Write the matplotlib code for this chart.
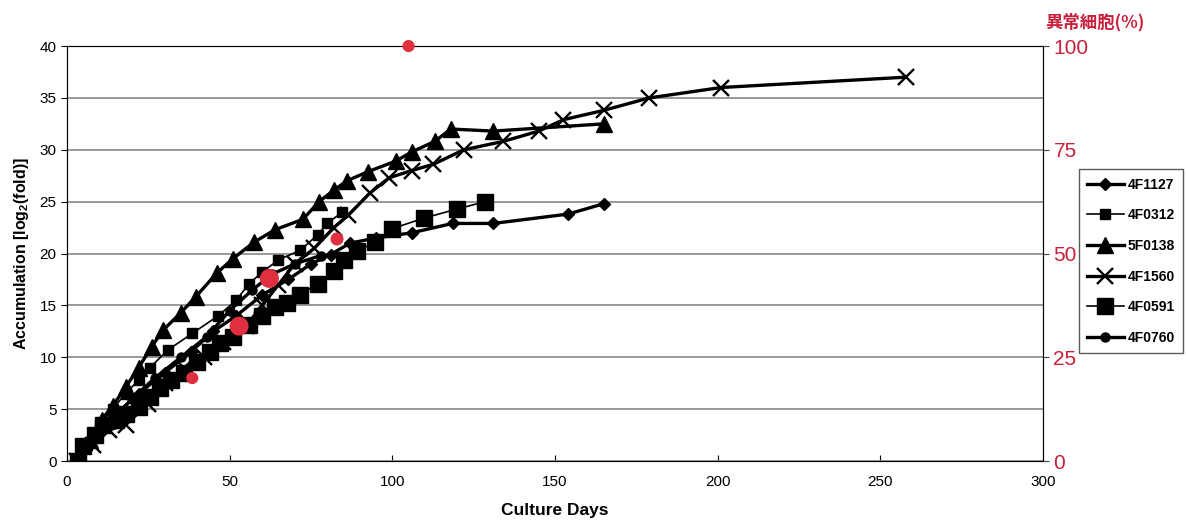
import matplotlib
matplotlib.use("Agg")
import matplotlib.pyplot as plt

plt.rcParams['font.family'] = ['Liberation Sans', 'DejaVu Sans']
plt.rcParams['mathtext.fontset'] = 'custom'
plt.rcParams['mathtext.rm'] = 'Liberation Sans'
plt.rcParams['mathtext.bf'] = 'Liberation Sans:bold'

# ---- data (day, log2 fold) ----
days_4F1127 = [3, 9, 15, 22, 30, 38, 45, 52, 60, 68, 75, 81, 87, 95, 106, 118.5, 131, 154, 165]
vals_4F1127 = [0, 2.5, 4.5, 6.5, 8.5, 10.5, 12.5, 14, 16, 17.5, 19, 19.9, 21, 21.5, 22, 22.9, 22.9, 23.8, 24.8]

days_4F0312 = [3, 6, 10, 14, 18, 22, 25.5, 31, 38.5, 46.5, 52, 56, 60, 65, 71.7, 77, 80, 84.6]
vals_4F0312 = [0, 1.5, 3.5, 5, 6.5, 7.8, 9, 10.7, 12.3, 14, 15.5, 17.1, 18.2, 19.4, 20.3, 21.8, 22.9, 24]

days_5F0138 = [3, 7, 10.7, 14, 18, 22, 26, 29.5, 35, 39.5, 46, 51, 57.5, 64, 72.5, 77.5, 82, 86, 92.6, 101, 106, 113, 118, 131, 165]
vals_5F0138 = [0, 2, 4, 5.3, 7.1, 9, 11, 12.6, 14.3, 15.8, 18.1, 19.5, 21.1, 22.3, 23.3, 25, 26.1, 27, 27.9, 28.9, 29.8, 30.8, 32, 31.8, 32.5]

days_4F1560 = [3, 8, 13, 18, 25, 30, 36, 42, 48, 55, 60, 65, 70, 76, 82, 86.5, 93, 99, 106, 112.6, 122, 134, 145, 152.6, 165, 179, 201, 258]
vals_4F1560 = [0, 1.5, 3, 3.5, 5.5, 7.5, 9, 10, 11.5, 13, 15, 17, 19, 20.5, 22.5, 23.7, 25.8, 27.3, 28, 28.6, 30, 30.8, 31.8, 32.9, 33.8, 35, 36, 37]

days_4F0591 = [3.5, 5, 8.6, 11, 15, 18, 22, 25.5, 28.6, 32, 36, 40, 44, 47, 51, 56, 60, 64, 67.7, 71.7, 77, 82, 85, 89, 94.8, 100, 109.6, 120, 128.6]
vals_4F0591 = [0, 1.4, 2.5, 3.5, 4, 4.5, 5.2, 6.2, 7, 7.8, 8.5, 9.5, 10.5, 11.4, 12, 13.1, 14, 14.8, 15.2, 16, 17.1, 18.3, 19.4, 20.2, 21.1, 22.4, 23.4, 24.3, 25]

days_4F0760 = [3, 8, 14, 20, 27, 35, 43, 50, 57, 63, 70, 78]
vals_4F0760 = [0, 2, 4, 6, 8, 10, 12, 14.5, 16.5, 18, 19, 19.8]

# abnormal cells (%), right axis
abn_days = [38.5, 52.9, 62.2, 83, 105]
abn_pct = [20, 32.5, 44, 53.5, 100]
abn_size = [60, 160, 160, 70, 60]

series = [
    ("4F1127", days_4F1127, vals_4F1127, dict(marker='D', ms=6, lw=2.4)),
    ("4F0312", days_4F0312, vals_4F0312, dict(marker='s', ms=7.5, lw=1.2)),
    ("5F0138", days_5F0138, vals_5F0138, dict(marker='^', ms=11, lw=2.4)),
    ("4F1560", days_4F1560, vals_4F1560, dict(marker='x', ms=11, mew=1.7, lw=2.4)),
    ("4F0591", days_4F0591, vals_4F0591, dict(marker='s', ms=11, lw=1.2)),
    ("4F0760", days_4F0760, vals_4F0760, dict(marker='o', ms=6.5, lw=2.4)),
]

fig = plt.figure(figsize=(11.86, 5.23), dpi=100)
ax = fig.add_axes([0.0565, 0.1185, 0.8229, 0.7935])

for name, d, v, st in series:
    ax.plot(d, v, color='black', label=name, zorder=3, **st)

ax.set_xlim(0, 300)
ax.set_ylim(0, 40)
ax.set_xticks(range(0, 301, 50))
ax.set_yticks(range(0, 41, 5))
ax.yaxis.grid(True, color='#888888', lw=1.2)
ax.set_axisbelow(True)
ax.tick_params(axis='x', direction='in', length=4, labelsize=11, pad=10)
ax.tick_params(axis='y', direction='out', length=4, labelsize=11)
for s in ax.spines.values():
    s.set_color('#444444')
ax.set_xlabel("Culture Days", fontsize=12.5, fontweight='bold', labelpad=10)
ax.set_ylabel(r"Accumulation [log$_{\mathbf{2}}$(fold)]", fontsize=11.5, fontweight='bold', labelpad=6)

ax2 = ax.twinx()
ax2.set_ylim(0, 100)
ax2.set_yticks([0, 25, 50, 75, 100])
ax2.tick_params(axis='y', colors='#444444', labelcolor='#c8203a', labelsize=15, length=4, direction='out')
ax2.scatter(abn_days, abn_pct, s=abn_size, color='#e0303f', zorder=5, clip_on=False)
fig.text(0.923, 0.957, "異常細胞(%)", color='#c8203a', fontsize=12.5, fontweight='bold',
         ha='center', va='center', family=['Noto Sans CJK JP', 'DejaVu Sans'])

leg = ax.legend(loc='upper left', bbox_to_anchor=(1.037, 0.703), frameon=True, fancybox=False,
                edgecolor='#333333', handlelength=2.6, labelspacing=1.2,
                borderpad=0.6, handletextpad=0.3, borderaxespad=0.0,
                prop={'weight': 'bold', 'size': 10})
leg.get_frame().set_linewidth(1.0)

fig.savefig("out.png", dpi=100)
